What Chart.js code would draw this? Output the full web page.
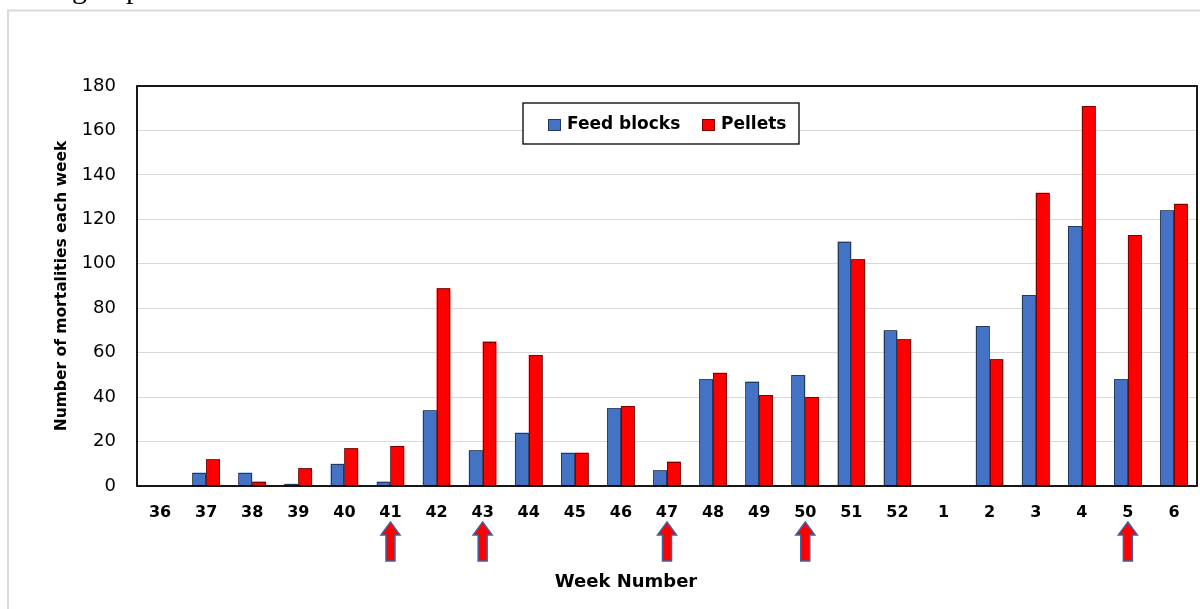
<!DOCTYPE html>
<html>
<head>
<meta charset="utf-8">
<title>Weekly mortalities: feed blocks vs pellets</title>
<script src="https://cdn.jsdelivr.net/npm/chart.js@4.4.1/dist/chart.umd.min.js"></script>
<style>
  html, body { margin: 0; padding: 0; background: #fff; }
  #wrap { width: 1200px; height: 609px; position: relative; }
  canvas { display: block; }
</style>
</head>
<body>
<div id="wrap"><canvas id="chart" width="1200" height="609"></canvas></div>
<script>
// Week numbers (the season runs over the new year)
const weeks = ['36', '37', '38', '39', '40', '41', '42', '43', '44', '45', '46', '47',
               '48', '49', '50', '51', '52', '1', '2', '3', '4', '5', '6'];

// Number of mortalities each week
const feedBlocks = [0, 6, 6, 1, 10, 2, 34, 16, 24, 15, 35, 7, 48, 47, 50, 110, 70, 0, 72, 86, 117, 48, 124];
const pellets    = [0, 12, 2, 8, 17, 18, 89, 65, 59, 15, 36, 11, 51, 41, 40, 102, 66, 0, 57, 132, 171, 113, 127];

// Y axis ticks
const yTicks = [0, 20, 40, 60, 80, 100, 120, 140, 160, 180];

// Weeks marked with an arrow under the axis
const arrowWeeks = ['41', '43', '47', '50', '5'];

const BLUE = '#4472C4';
const RED = '#FF0000';
const FONT = '"DejaVu Sans", "Liberation Sans", sans-serif';

// Page background, thin page frame and the tail of the text line above
const pagePlugin = {
  id: 'page',
  beforeDraw(chart) {
    const ctx = chart.ctx;
    ctx.save();
    ctx.fillStyle = '#fff';
    ctx.fillRect(0, 0, chart.width, chart.height);
    ctx.strokeStyle = '#d9d9d9';
    ctx.lineWidth = 2;
    ctx.beginPath();
    ctx.moveTo(8, chart.height);
    ctx.lineTo(8, 10.5);
    ctx.lineTo(chart.width, 10.5);
    ctx.stroke();
    ctx.fillStyle = '#000';
    ctx.font = '30px "Liberation Serif", serif';
    ctx.textAlign = 'right';
    ctx.textBaseline = 'alphabetic';
    ctx.fillText('ing', 87, -2);
    ctx.fillText('up', 141, -2);
    ctx.restore();
  }
};

// Dotted outline round each bar, then the plot frame
const outlinePlugin = {
  id: 'outline',
  afterDatasetsDraw(chart) {
    const ctx = chart.ctx;
    ctx.save();
    ctx.strokeStyle = '#000';
    ctx.lineWidth = 1;
    ctx.setLineDash([1, 1]);
    chart.data.datasets.forEach((ds, i) => {
      const meta = chart.getDatasetMeta(i);
      meta.data.forEach((el, j) => {
        if (!ds.data[j]) return;
        const p = el.getProps(['x', 'y', 'base', 'width'], true);
        const l = Math.round(p.x - p.width / 2) + 0.5;
        const r = Math.round(p.x + p.width / 2) - 0.5;
        const t = Math.round(p.y) + 0.5;
        ctx.strokeRect(l, t, r - l, p.base - t);
      });
    });
    ctx.setLineDash([]);
    const a = chart.chartArea;
    ctx.lineWidth = 1.8;
    ctx.strokeRect(a.left, a.top, a.right - a.left, a.bottom - a.top);
    ctx.restore();
  }
};

// Legend box, axis titles and arrows
const annotatePlugin = {
  id: 'annotate',
  afterDraw(chart) {
    const ctx = chart.ctx;
    const xs = chart.scales.x;
    ctx.save();

    // legend
    ctx.fillStyle = '#fff';
    ctx.fillRect(523, 103, 276, 41);
    ctx.strokeStyle = '#000';
    ctx.lineWidth = 1.3;
    ctx.strokeRect(523, 103, 276, 41);
    const items = [
      { x: 548, tx: 567, ds: chart.data.datasets[0] },
      { x: 702, tx: 721, ds: chart.data.datasets[1] }
    ];
    ctx.font = 'bold 17px ' + FONT;
    ctx.textBaseline = 'middle';
    ctx.textAlign = 'left';
    items.forEach(it => {
      ctx.fillStyle = it.ds.backgroundColor;
      ctx.fillRect(it.x, 119, 13, 12);
      ctx.setLineDash([1, 1]);
      ctx.lineWidth = 1;
      ctx.strokeStyle = '#000';
      ctx.strokeRect(it.x + 0.5, 119.5, 12, 11);
      ctx.setLineDash([]);
      ctx.fillStyle = '#000';
      ctx.fillText(it.ds.label, it.tx, 125);
    });

    // axis titles
    ctx.fillStyle = '#000';
    ctx.textAlign = 'center';
    ctx.textBaseline = 'middle';
    ctx.font = 'bold 18px ' + FONT;
    ctx.fillText('Week Number', 626, 582);
    ctx.save();
    ctx.translate(62, 286);
    ctx.rotate(-Math.PI / 2);
    ctx.font = 'bold 15.5px ' + FONT;
    ctx.fillText('Number of mortalities each week', 0, 0);
    ctx.restore();

    // arrows
    ctx.fillStyle = RED;
    ctx.strokeStyle = '#4060A0';
    ctx.lineWidth = 1.5;
    ctx.lineJoin = 'miter';
    arrowWeeks.forEach(w => {
      const cx = xs.getPixelForValue(weeks.indexOf(w));
      ctx.beginPath();
      ctx.moveTo(cx, 522);
      ctx.lineTo(cx + 9.5, 535);
      ctx.lineTo(cx + 4.5, 535);
      ctx.lineTo(cx + 4.5, 561);
      ctx.lineTo(cx - 4.5, 561);
      ctx.lineTo(cx - 4.5, 535);
      ctx.lineTo(cx - 9.5, 535);
      ctx.closePath();
      ctx.fill();
      ctx.stroke();
    });
    ctx.restore();
  }
};

new Chart(document.getElementById('chart'), {
  type: 'bar',
  data: {
    labels: weeks,
    datasets: [
      { label: 'Feed blocks', data: feedBlocks, backgroundColor: BLUE, borderWidth: 0 },
      { label: 'Pellets', data: pellets, backgroundColor: RED, borderWidth: 0 }
    ]
  },
  options: {
    responsive: false,
    animation: false,
    devicePixelRatio: 1,
    layout: { padding: { top: 86, right: 3, left: 0, bottom: 0 } },
    datasets: { bar: { categoryPercentage: 0.6, barPercentage: 1.0 } },
    plugins: {
      legend: { display: false },
      tooltip: { enabled: false },
      title: { display: false }
    },
    scales: {
      x: {
        grid: { display: false, drawTicks: false },
        border: { display: false },
        ticks: {
          color: '#000',
          font: { family: FONT, size: 16, weight: 'bold' },
          padding: 17,
          maxRotation: 0,
          autoSkip: false
        },
        afterFit(s) { s.height = 123; }
      },
      y: {
        min: 0,
        max: 180,
        afterBuildTicks(s) { s.ticks = yTicks.map(v => ({ value: v })); },
        grid: { color: '#d9d9d9', lineWidth: 1, drawTicks: false },
        border: { display: false },
        ticks: {
          color: '#000',
          font: { family: FONT, size: 18 },
          padding: 21
        },
        afterFit(s) { s.width = 137; }
      }
    }
  },
  plugins: [pagePlugin, outlinePlugin, annotatePlugin]
});
</script>
</body>
</html>
